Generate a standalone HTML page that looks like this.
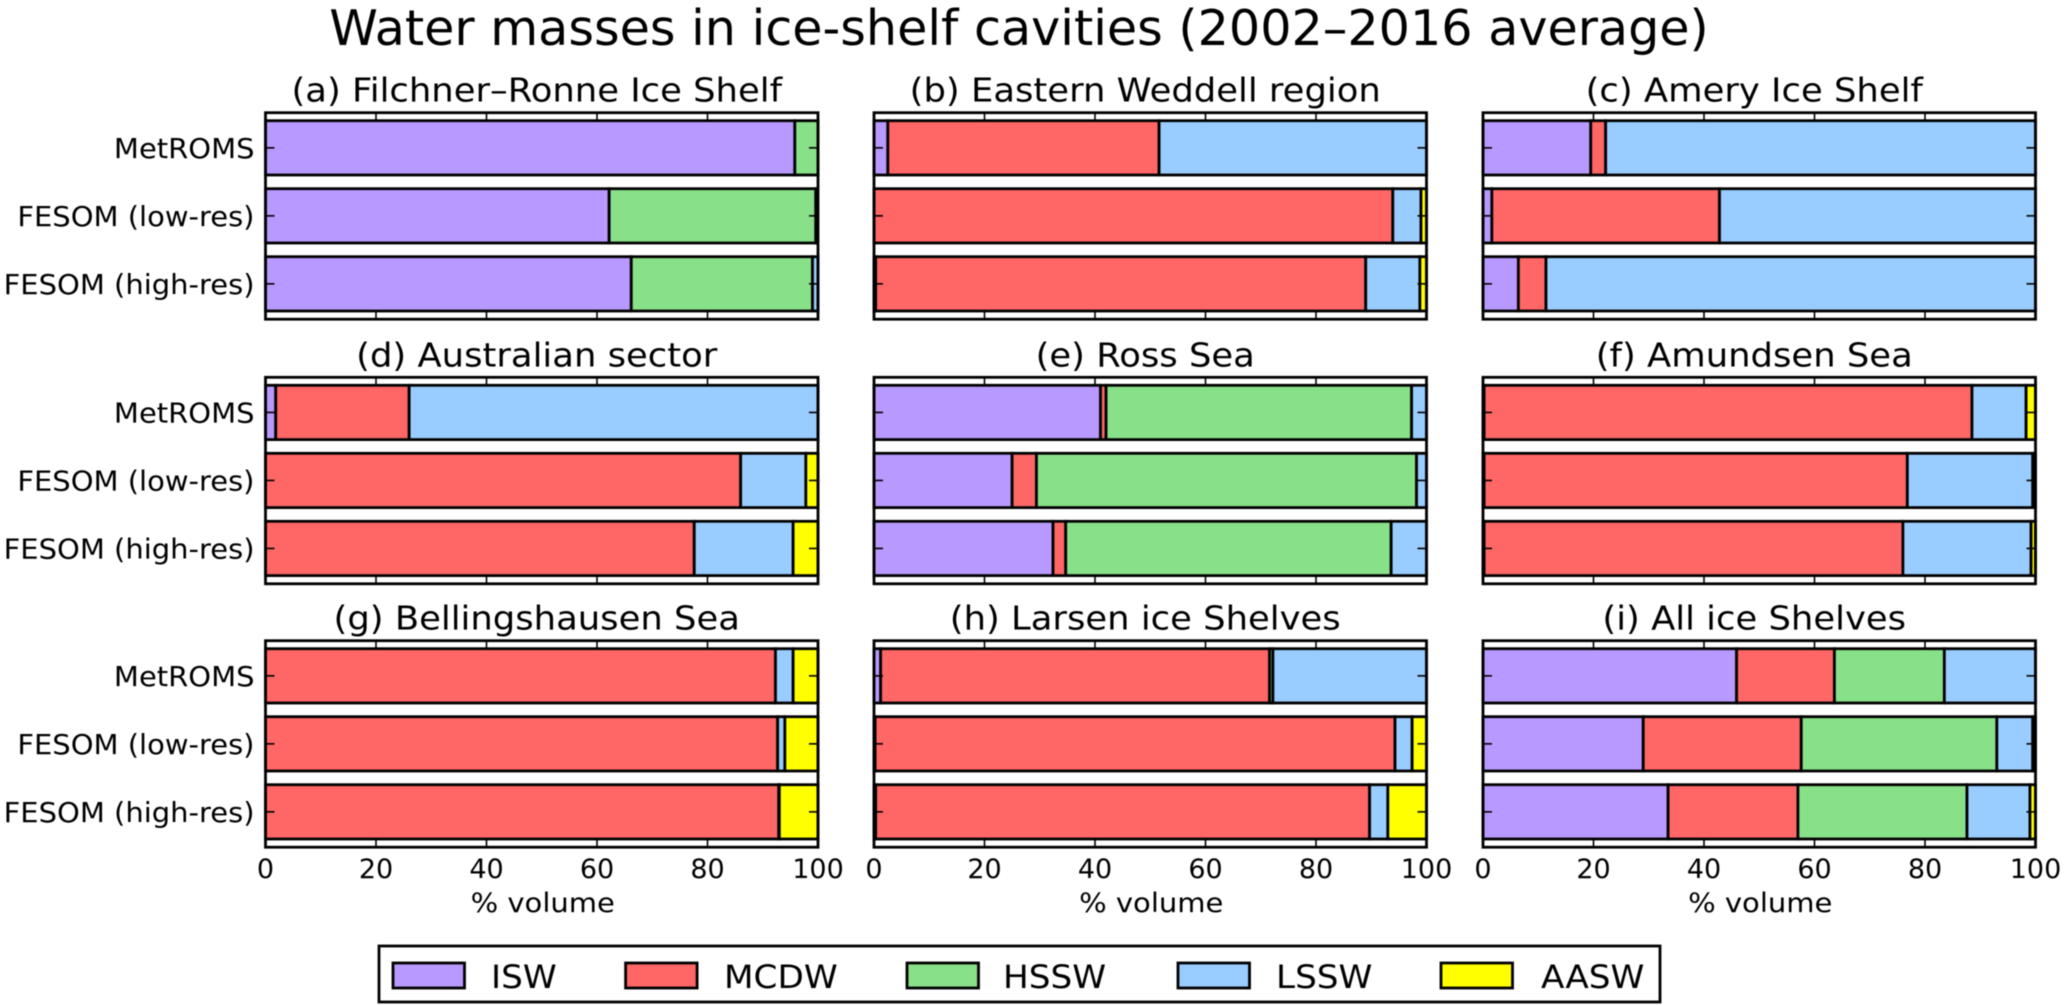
<!DOCTYPE html>
<html lang="en">
<head>
<meta charset="utf-8">
<title>Water masses in ice-shelf cavities</title>
<style>
html,body{margin:0;padding:0;background:#fff;width:2067px;height:1005px;overflow:hidden}
svg{display:block;font-family:"DejaVu Sans","Liberation Sans",sans-serif;fill:#000;filter:blur(0.5px)}
</style>
</head>
<body>
<svg id="chart" xmlns="http://www.w3.org/2000/svg" width="2067" height="1005" viewBox="0 0 2067 1005">
<rect width="2067" height="1005" fill="#fff"/>
<text x="1019" y="45" font-size="49.2" text-anchor="middle">Water masses in ice-shelf cavities (2002–2016 average)</text>
</svg>
<script>
const panelTitles = ['(a) Filchner–Ronne Ice Shelf','(b) Eastern Weddell region','(c) Amery Ice Shelf','(d) Australian sector','(e) Ross Sea','(f) Amundsen Sea','(g) Bellingshausen Sea','(h) Larsen ice Shelves','(i) All ice Shelves'];
const models = ['MetROMS','FESOM (low-res)','FESOM (high-res)'];
const waterMasses = ['ISW','MCDW','HSSW','LSSW','AASW'];
const massColors = ['#b899ff','#ff6666','#88e088','#99ccff','#ffff00'];
const xTickLabels = [0,20,40,60,80,100];
const iswValues = [[95.8,62.2,66.2],[2.5,0,0.3],[19.5,1.6,6.4],[1.85,0,0],[41,25,32.4],[0.2,0.2,0.2],[0,0,0],[1.2,0.2,0.3],[45.9,29,33.5]];
const mcdwValues = [[0,0,0],[49.1,93.9,88.7],[2.7,41.2,5],[24.15,86,77.6],[1,4.4,2.3],[88.3,76.6,75.8],[92.3,92.7,92.9],[70.4,94.1,89.4],[17.7,28.6,23.5]];
const hsswValues = [[4.2,37.4,32.8],[0,0,0],[0,0,0],[0,0,0],[55.3,68.8,58.9],[0,0,0],[0,0,0],[0.6,0,0],[19.9,35.4,30.6]];
const lsswValues = [[0,0.3,1],[48.4,5.1,9.8],[77.8,57.2,88.6],[74,11.8,17.9],[2.7,1.8,6.4],[9.8,22.7,23.2],[3.2,1.3,0.1],[27.8,3.1,3.3],[16.5,6.5,11.4]];
const aaswValues = [[0,0,0],[0,1,1.2],[0,0,0],[0,2.2,4.5],[0,0,0],[1.7,0.5,0.8],[4.5,6,7],[0,2.6,7],[0,0.5,1]];
const seriesValues = [iswValues, mcdwValues, hsswValues, lsswValues, aaswValues];

const svg = document.getElementById('chart');
const NS = 'http://www.w3.org/2000/svg';
const axesLefts = [265.5, 874, 1483];
const axesTops = [112.7, 377.3, 640.7];
const axesW = 552.5, axesH = 206.5;
const barPitch = 68, barH = 54.3, barOffset = 8;
const lw = 2.8;

function make(tag, parent, attrs, text) {
  const el = document.createElementNS(NS, tag);
  for (const k in attrs) el.setAttribute(k, attrs[k]);
  if (text !== undefined) el.textContent = text;
  parent.appendChild(el);
  return el;
}
function stretch(el, factor) {
  el.setAttribute('textLength', el.getComputedTextLength() * factor);
  el.setAttribute('lengthAdjust', 'spacingAndGlyphs');
}
function xScale(left, v) { return left + v / 100 * axesW; }
function yBand(top, i) { return top + barOffset + i * barPitch; }

panelTitles.forEach(function (title, p) {
  const left = axesLefts[p % 3];
  const top = axesTops[Math.floor(p / 3)];
  const bottom = top + axesH;
  const right = left + axesW;
  const isLeft = p % 3 === 0;
  const isBottom = p >= 6;

  const g = make('g', svg, {});
  
  

  const t = make('text', g, {x: left + axesW / 2 - 5, y: top - 11, 'font-size': 33, 'text-anchor': 'middle'}, title);
  
  
  stretch(t, 1.072);

  models.forEach(function (model, m) {
    let cum = 0;
    const y = yBand(top, m);
    waterMasses.forEach(function (mass, s) {
      const v = seriesValues[s][p][m];
      if (v > 0) {
        const r = make('rect', g, {
          x: xScale(left, cum), y: y,
          width: xScale(left, cum + v) - xScale(left, cum), height: barH,
          fill: massColors[s], stroke: '#000', 'stroke-width': lw
        });
        
        
      }
      cum += v;
    });
    const cy = y + barH / 2;
    const tl = make('line', g, {x1: left, x2: left + 9, y1: cy, y2: cy, stroke: '#000', 'stroke-width': 1.6});
    
    
    const tr = make('line', g, {x1: right - 9, x2: right, y1: cy, y2: cy, stroke: '#000', 'stroke-width': 1.6});
    
    
    if (isLeft) {
      const lab = make('text', g, {x: left - 11, y: cy + 10, 'font-size': 28, 'text-anchor': 'end'}, model);
      
      
      stretch(lab, 1.035);
    }
  });

  xTickLabels.forEach(function (tick) {
    const x = xScale(left, tick);
    const t1 = make('line', g, {x1: x, x2: x, y1: top, y2: top + 9, stroke: '#000', 'stroke-width': 1.6});
    
    
    const t2 = make('line', g, {x1: x, x2: x, y1: bottom - 9, y2: bottom, stroke: '#000', 'stroke-width': 1.6});
    
    
    if (isBottom) {
      const lab = make('text', g, {x: x, y: 878, 'font-size': 27, 'text-anchor': 'middle'}, String(tick));
      
      
    }
  });

  const frame = make('rect', g, {x: left, y: top, width: axesW, height: axesH, fill: 'none', stroke: '#000', 'stroke-width': lw});
  
  

  if (isBottom) {
    const xl = make('text', g, {x: left + axesW / 2 + 1, y: 912, 'font-size': 27, 'text-anchor': 'middle'}, '% volume');
    
    
    stretch(xl, 1.075);
  }
});

const legend = make('g', svg, {});


const legendBox = make('rect', legend, {x: 379, y: 946, width: 1281, height: 56, fill: '#fff', stroke: '#000', 'stroke-width': lw});


const legendX = [393, 625.6, 907, 1178, 1441];
const legendTextX = [491, 724, 1003, 1276, 1541];
waterMasses.forEach(function (mass, s) {
  const entry = make('g', legend, {});
  
  
  const sw = make('rect', entry, {x: legendX[s], y: 963, width: 71.5, height: 25, fill: massColors[s], stroke: '#000', 'stroke-width': lw});
  
  
  const lab = make('text', entry, {x: legendTextX[s], y: 988, 'font-size': 32}, mass);
  
  
  stretch(lab, 1.07);
});
</script>
</body>
</html>
